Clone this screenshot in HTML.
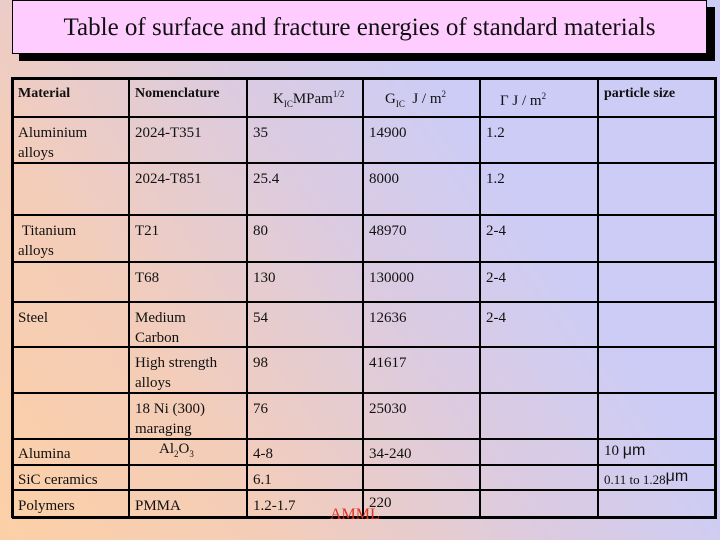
<!DOCTYPE html>
<html><head><meta charset="utf-8"><style>
html,body{margin:0;padding:0}
body{width:720px;height:540px;overflow:hidden;position:relative;font-family:"Liberation Serif",serif;
background:linear-gradient(55deg,#fcd0a6 0%,#f4cdb8 25%,#dccbe0 50%,#ccccf7 70%,#ccccf7 100%);}
#shadow{position:absolute;left:19px;top:7px;width:696px;height:54px;background:#000}
#title{position:absolute;left:12px;top:0;width:693px;height:52px;background:#ffccff;border:1px solid #000;
font-size:25px;line-height:54px;text-align:center;color:#111}
.h{position:absolute;height:2px;background:#000}
.v{position:absolute;width:2px;background:#000}
.t{position:absolute;font-size:15px;line-height:20px;color:#111;white-space:nowrap}
.b{font-weight:bold;font-size:14px}
#amml{position:absolute;left:330px;top:506px;color:#e03020;font-size:16px}
sub,sup{font-size:9px}
</style></head><body>
<div id="shadow"></div>
<div id="title">Table of surface and fracture energies of standard materials</div>
<div id="grid"></div>
<div id="amml">AMML</div>
<script>
const xs=[12,129,247,363,480,598,715];
const ys=[78,117,163,215,262,302,347,393,439,465,490,517];
const g=document.getElementById('grid');
ys.forEach((y,i)=>{const d=document.createElement('div');d.className='h';


const w=(i==0||i==ys.length-1)?3:2;d.style.cssText=`left:${xs[0]}px;top:${y-1}px;width:${xs[6]-xs[0]+2}px;height:${w}px`;g.appendChild(d);});
xs.forEach((x,i)=>{const d=document.createElement('div');d.className='v';


const w=(i==0||i==xs.length-1)?3:2;d.style.cssText=`left:${x-1}px;top:${ys[0]-1}px;height:${ys[11]-ys[0]+2}px;width:${w}px`;g.appendChild(d);});
const cells=[
[0,0,'<span class="b">Material</span>',83],[0,1,'<span class="b">Nomenclature</span>',83],[0,2,'<span style="margin-left:20px">K<sub>IC</sub>MPam<sup>1/2</sup></span>',84],[0,3,'<span style="margin-left:16px">G<sub>IC</sub>&nbsp; J / m<sup>2</sup></span>',84],[0,4,'<span style="margin-left:14px">Γ J / m<sup>2</sup></span>',86],[0,5,'<span class="b">particle size</span>',83],
[1,0,'Aluminium<br>alloys'],[1,1,'2024-T351'],[1,2,'35'],[1,3,'14900'],[1,4,'1.2'],
[2,1,'2024-T851'],[2,2,'25.4'],[2,3,'8000'],[2,4,'1.2'],
[3,0,'&nbsp;Titanium<br>alloys'],[3,1,'T21'],[3,2,'80'],[3,3,'48970'],[3,4,'2-4'],
[4,1,'T68'],[4,2,'130'],[4,3,'130000'],[4,4,'2-4'],
[5,0,'Steel'],[5,1,'Medium<br>Carbon'],[5,2,'54'],[5,3,'12636'],[5,4,'2-4'],
[6,1,'High strength<br>alloys'],[6,2,'98'],[6,3,'41617'],
[7,1,'18 Ni (300)<br>maraging'],[7,2,'76'],[7,3,'25030'],
[8,0,'Alumina',444],[8,1,'<span style="margin-left:24px">Al<sub>2</sub>O<sub>3</sub></span>',439],[8,2,'4-8',444],[8,3,'34-240',444],[8,5,'10 <span style="font-family:\'Liberation Sans\',sans-serif;font-size:16px">μm</span>',441],
[9,0,'SiC ceramics',470],[9,2,'6.1',470],[9,5,'<span style="font-size:13px">0.11 to 1.28</span><span style="font-family:\'Liberation Sans\',sans-serif;font-size:16px;vertical-align:3px">μm</span>',467],
[10,0,'Polymers',496],[10,1,'PMMA',496],[10,2,'1.2-1.7',496],[10,3,'220',493]
];
cells.forEach(c=>{const d=document.createElement('div');d.className='t';


const top=c[3]!==undefined?c[3]:ys[c[0]]+6;
d.style.left=(xs[c[1]]+6)+'px';d.style.top=top+'px';d.innerHTML=c[2];g.appendChild(d);});
</script>
</body></html>
